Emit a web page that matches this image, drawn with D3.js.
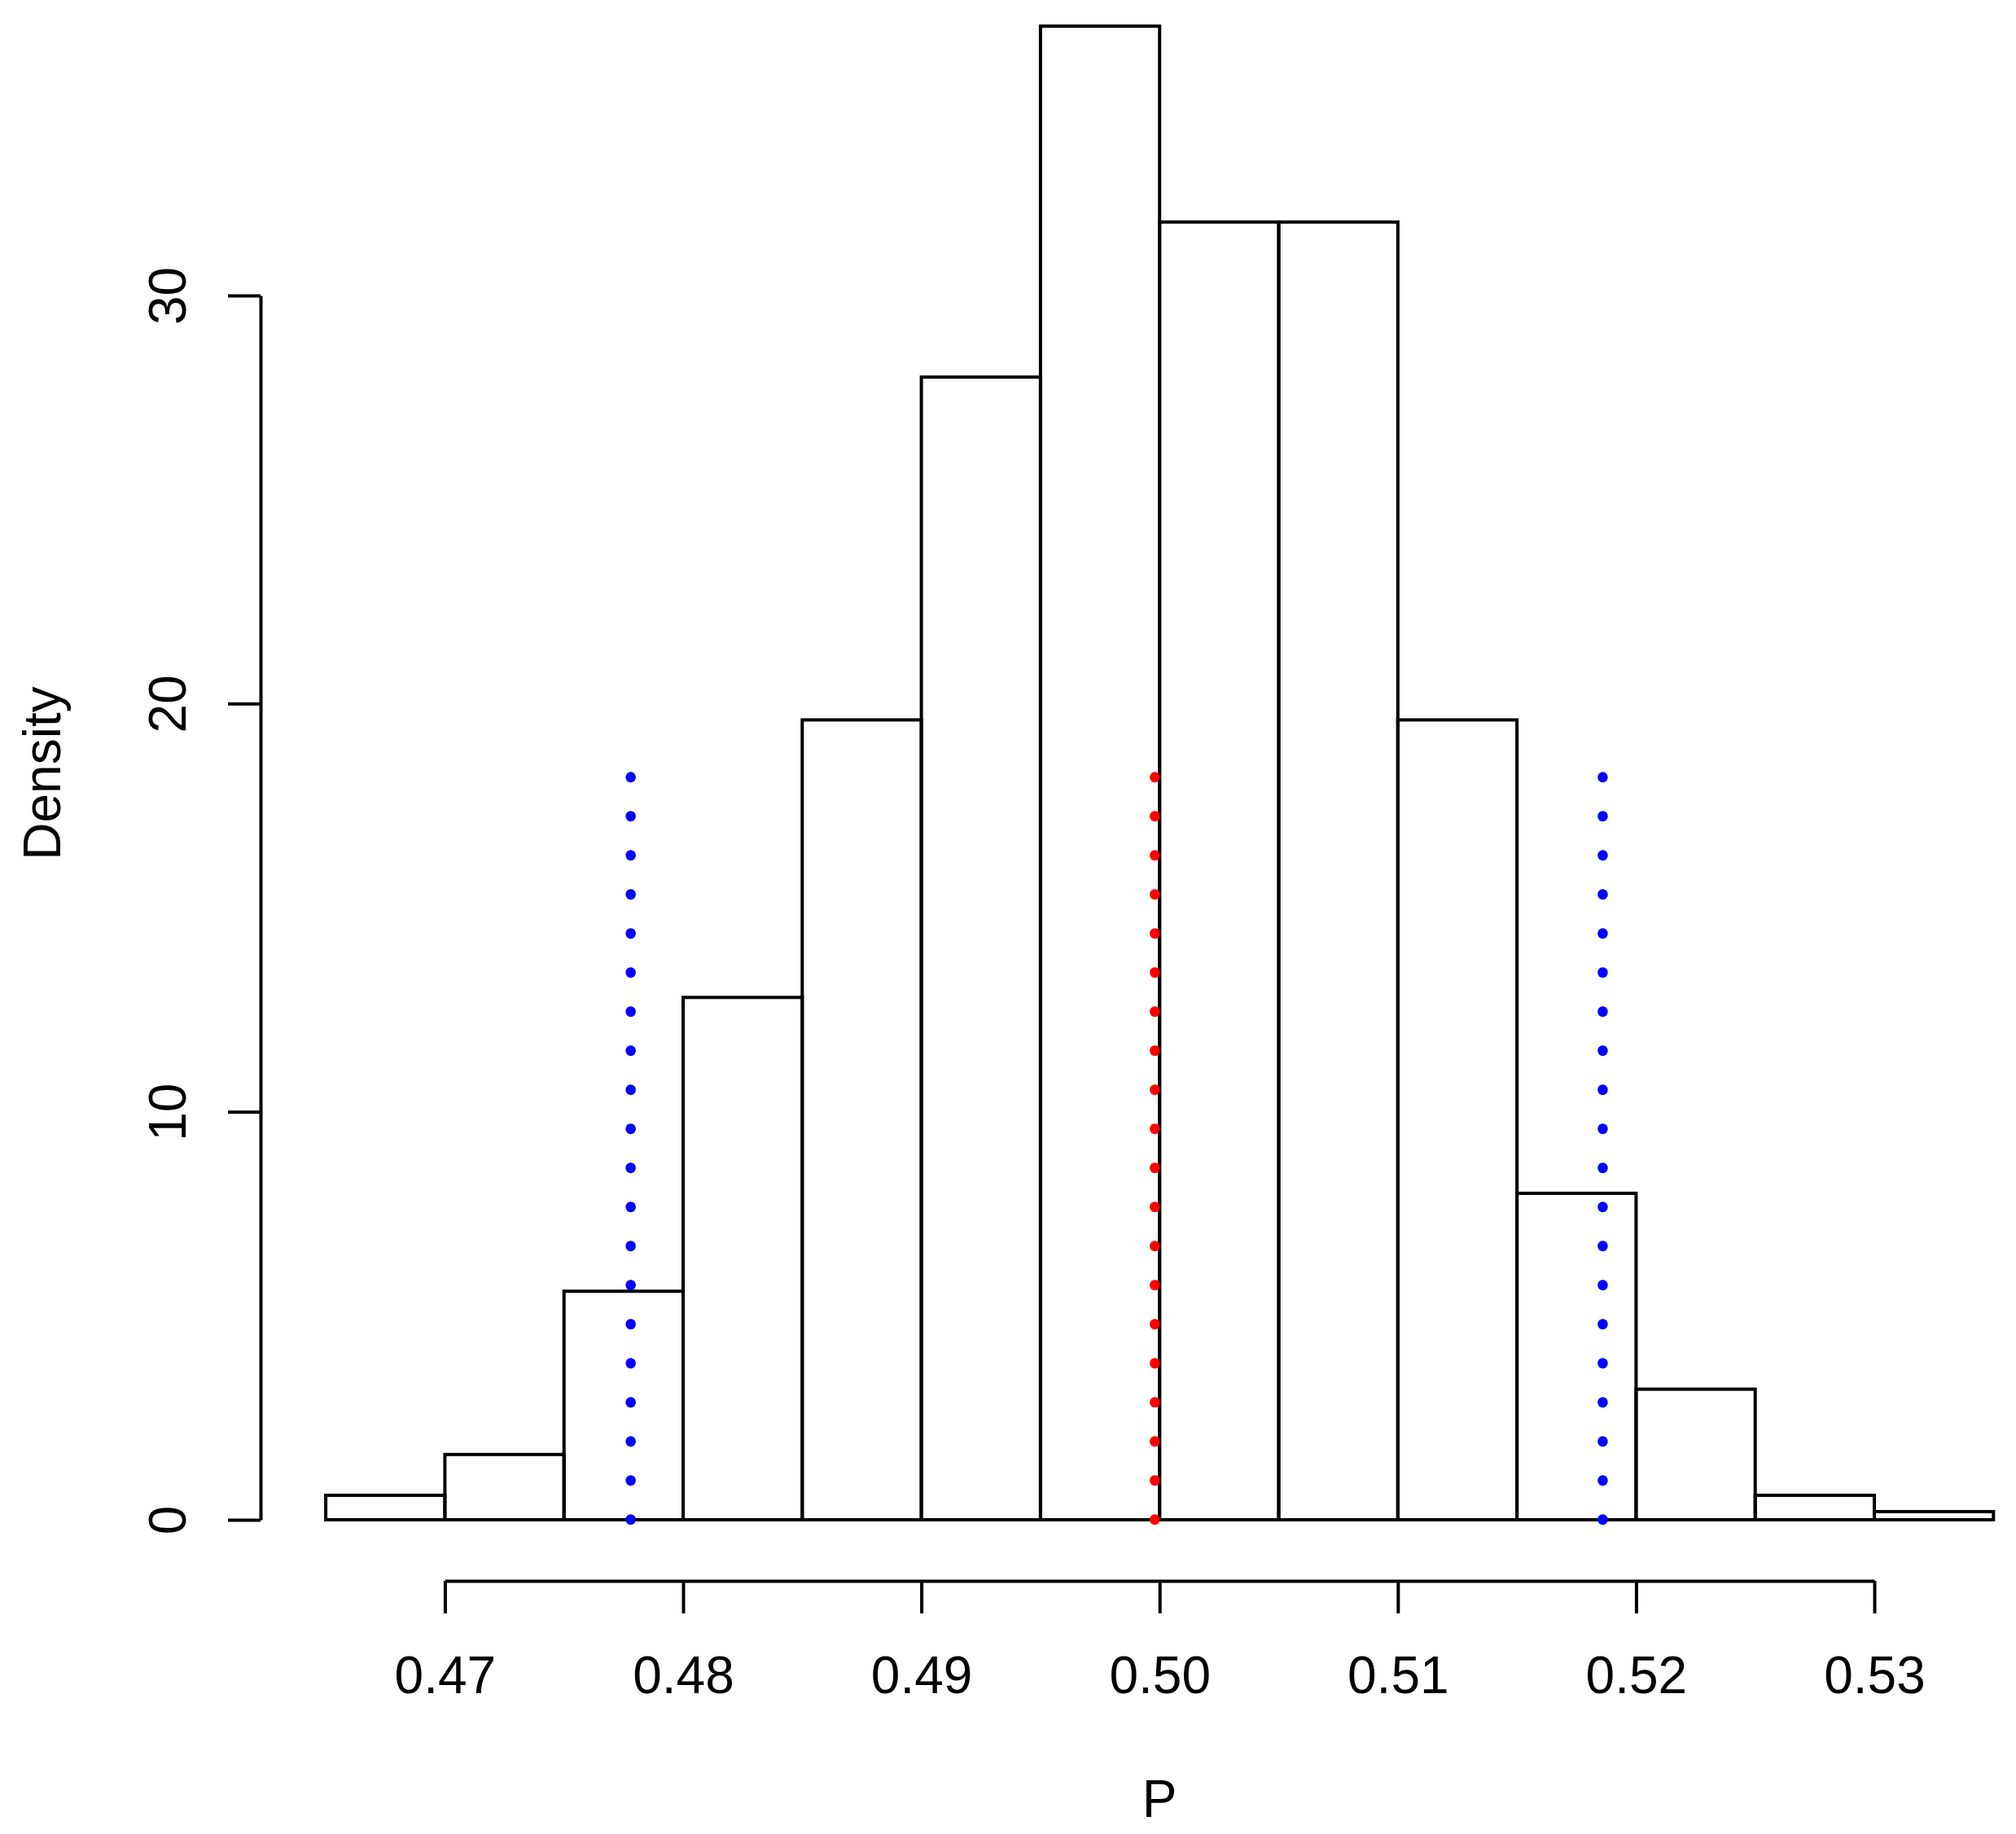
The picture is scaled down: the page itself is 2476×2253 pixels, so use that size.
<!DOCTYPE html>
<html>
<head>
<meta charset="utf-8">
<script src="https://cdn.jsdelivr.net/npm/d3@7"></script>
<style>
  html, body { margin: 0; padding: 0; background: #ffffff; }
  text { font-family: "Liberation Sans", Arial, Helvetica, sans-serif; fill: #000; }
</style>
</head>
<body>
<svg id="chart" width="2476" height="2253"></svg>
<script>
// ---- data ----
const binStarts = [0.465, 0.470, 0.475, 0.480, 0.485, 0.490, 0.495, 0.500, 0.505, 0.510, 0.515, 0.520, 0.525, 0.530];
const binWidth = 0.005;
const densities = [0.6, 1.6, 5.6, 12.8, 19.6, 28.0, 36.6, 31.8, 31.8, 19.6, 8.0, 3.2, 0.6, 0.2];
const xTicks = [0.47, 0.48, 0.49, 0.50, 0.51, 0.52, 0.53];
const yTicks = [0, 10, 20, 30];
const ciLines = [0.4778, 0.5186];   // blue dotted
const meanLine = [0.4998];           // red dotted
const refLineTop = 18.2;
const xTitle = "P";
const yTitle = "Density";

// ---- layout ----
const svg = d3.select("#chart");
svg.append("rect").attr("width", 2476).attr("height", 2253).attr("fill", "#fff");

const x = d3.scaleLinear().domain([0.47, 0.53]).range([546.4, 2302]);
const y = d3.scaleLinear().domain([0, 30]).range([1867, 363]);
const fontSize = 64;
const lw = 4;

// bars
svg.append("g").selectAll("rect")
  .data(binStarts.map((s, i) => ({ s, d: densities[i] })))
  .join("rect")
  .attr("x", d => x(d.s))
  .attr("width", d => x(d.s + binWidth) - x(d.s))
  .attr("y", d => y(d.d))
  .attr("height", d => y(0) - y(d.d))
  .attr("fill", "none")
  .attr("stroke", "#000")
  .attr("stroke-width", lw)
  .attr("stroke-linejoin", "miter");

// dotted reference lines
function refLine(vals, color) {
  svg.append("g").selectAll("line")
    .data(vals)
    .join("line")
    .attr("x1", d => x(d)).attr("x2", d => x(d))
    .attr("y1", y(0)).attr("y2", y(refLineTop))
    .attr("stroke", color)
    .attr("stroke-width", 12.5)
    .attr("stroke-linecap", "round")
    .attr("stroke-dasharray", "0.5 47.5");
}
refLine(ciLines, "#0000ff");
refLine(meanLine, "#ff0000");

// y axis
const yAx = svg.append("g")
  .attr("transform", `translate(${x(0.47) - (x(0.47) - 320)},0)`)
  .call(d3.axisLeft(y).tickValues(yTicks).tickSize(40).tickSizeOuter(0).tickFormat(d3.format("d")));
yAx.select(".domain").attr("stroke-width", lw);
yAx.selectAll(".tick line").attr("stroke-width", lw);
yAx.selectAll(".tick text")
  .attr("transform", "rotate(-90)")
  .attr("x", 0).attr("y", -92).attr("dy", 0)
  .attr("text-anchor", "middle")
  .attr("font-size", fontSize)
  .attr("fill", "#000")
  .style("font-family", "'Liberation Sans', Arial, sans-serif");

// x axis
const xAx = svg.append("g")
  .attr("transform", "translate(0,1942)")
  .call(d3.axisBottom(x).tickValues(xTicks).tickSize(40).tickSizeOuter(0).tickFormat(d3.format(".2f")));
xAx.select(".domain").attr("stroke-width", lw);
xAx.selectAll(".tick line").attr("stroke-width", lw);
xAx.selectAll(".tick text")
  .attr("y", 138).attr("dy", 0)
  .attr("font-size", fontSize)
  .attr("fill", "#000")
  .style("font-family", "'Liberation Sans', Arial, sans-serif");

// axis titles
svg.append("text")
  .attr("x", x(0.50)).attr("y", 2232)
  .attr("text-anchor", "middle")
  .attr("font-size", fontSize)
  .text(xTitle);

svg.append("text")
  .attr("transform", "translate(74,950) rotate(-90)")
  .attr("text-anchor", "middle")
  .attr("font-size", fontSize)
  .text(yTitle);
</script>
</body>
</html>
